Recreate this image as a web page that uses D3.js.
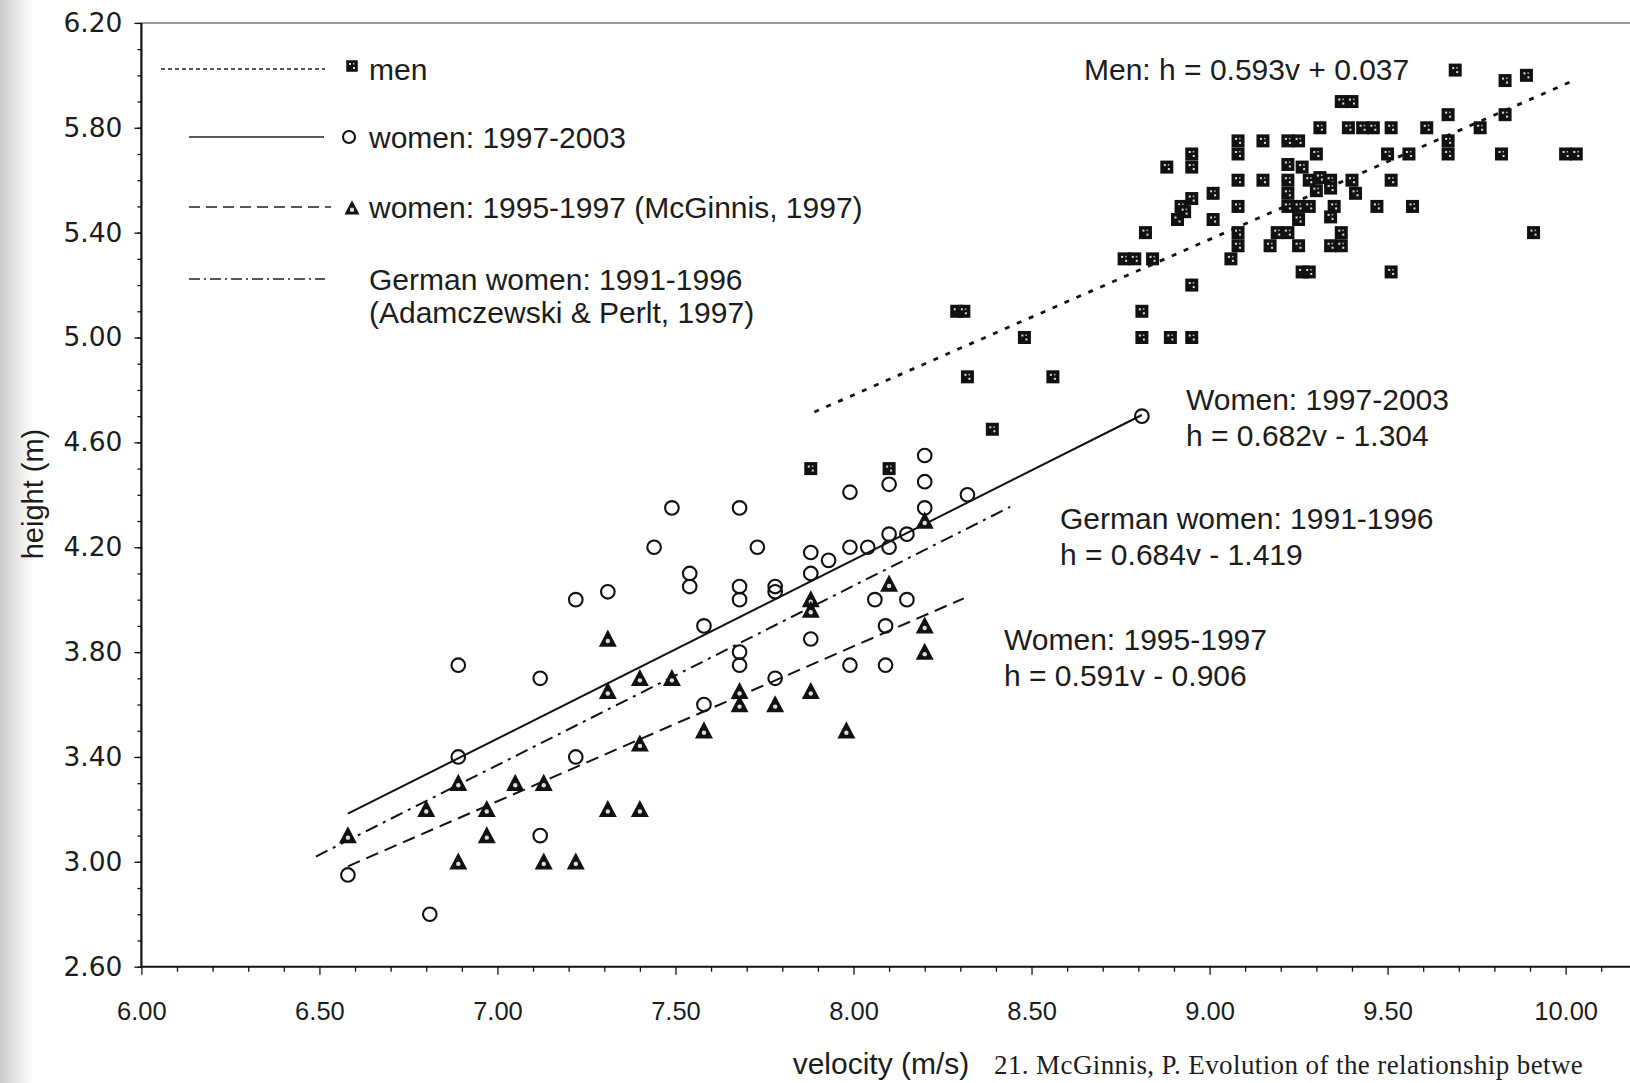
<!DOCTYPE html>
<html>
<head>
<meta charset="utf-8">
<script src="https://cdn.jsdelivr.net/npm/d3@7"></script>
<style>
    body { margin: 0; background: #fff; }
    svg { display: block; }
    text { font-family: 'Liberation Sans', Arial, sans-serif; fill: #1c1c1c; }
</style>
</head>
<body>
<svg id="canvas" width="1630" height="1083"></svg>
<script>
// men (squares)
let menVelocity = [7.88, 8.10, 8.29, 8.31, 8.32, 8.39, 8.48, 8.56, 8.76, 8.79, 8.84, 8.82, 8.95, 8.81, 8.81, 8.89, 8.95,
    9.31, 9.08, 9.08, 9.15, 9.22, 9.25, 9.30, 8.95, 8.88, 8.95, 9.08, 9.15, 9.22, 9.26, 9.22, 9.22, 9.22, 9.25, 9.28,
    9.28, 9.31, 9.34, 9.34, 9.30, 9.40, 9.41, 9.01, 8.95, 8.92, 8.91, 8.93, 9.01, 9.08, 9.08, 9.08, 9.06, 9.17, 9.19,
    9.22, 9.25, 9.25, 9.26, 9.28, 9.34, 9.37, 9.35, 9.34, 9.37,
    9.69, 9.83, 9.89, 9.37, 9.40, 9.67, 9.83, 9.61, 9.76, 9.39, 9.43, 9.46, 9.51, 9.67, 9.67, 9.56, 9.50, 9.82, 10.00,
    10.03, 9.51, 9.47, 9.57, 9.91, 9.51]
let menHeight = [4.50, 4.50, 5.10, 5.10, 4.85, 4.65, 5.00, 4.85, 5.30, 5.30, 5.30, 5.40, 5.20, 5.10, 5.00, 5.00, 5.00,
    5.80, 5.75, 5.70, 5.75, 5.75, 5.75, 5.70, 5.70, 5.65, 5.65, 5.60, 5.60, 5.66, 5.65, 5.60, 5.55, 5.50, 5.50, 5.50,
    5.60, 5.61, 5.60, 5.57, 5.56, 5.60, 5.55, 5.55, 5.53, 5.50, 5.45, 5.48, 5.45, 5.50, 5.40, 5.35, 5.30, 5.35, 5.40,
    5.40, 5.45, 5.35, 5.25, 5.25, 5.35, 5.35, 5.50, 5.46, 5.40,
    6.02, 5.98, 6.00, 5.90, 5.90, 5.85, 5.85, 5.80, 5.80, 5.80, 5.80, 5.80, 5.80, 5.75, 5.70, 5.70, 5.70, 5.70, 5.70,
    5.70, 5.60, 5.50, 5.50, 5.40, 5.25]

// women 1997-2003 (circles)
let womenVelocity = [6.58, 6.81, 6.89, 6.89, 7.12, 7.12, 7.22, 7.22, 7.31, 7.44, 7.49, 7.54, 7.54, 7.58, 7.58,
    7.68, 7.68, 7.68, 7.68, 7.68, 7.73, 7.78, 7.78, 7.78, 7.88, 7.88, 7.88, 7.93, 7.99, 7.99, 7.99, 8.04, 8.06,
    8.09, 8.09, 8.10, 8.10, 8.10, 8.15, 8.15, 8.20, 8.20, 8.20, 8.32, 8.81]
let womenHeight = [2.95, 2.80, 3.40, 3.75, 3.70, 3.10, 4.00, 3.40, 4.03, 4.20, 4.35, 4.10, 4.05, 3.90, 3.60,
    4.35, 4.05, 4.00, 3.80, 3.75, 4.20, 4.05, 4.03, 3.70, 4.18, 4.10, 3.85, 4.15, 4.41, 4.20, 3.75, 4.20, 4.00,
    3.90, 3.75, 4.44, 4.25, 4.20, 4.25, 4.00, 4.55, 4.45, 4.35, 4.40, 4.70]

// women 1995-1997, McGinnis (triangles)
let mcginnisVelocity = [6.58, 6.80, 6.89, 6.89, 6.97, 6.97, 7.05, 7.13, 7.13, 7.22, 7.31, 7.31, 7.31, 7.40, 7.40,
    7.40, 7.49, 7.58, 7.68, 7.68, 7.78, 7.88, 7.88, 7.88, 7.98, 8.10, 8.20, 8.20, 8.20]
let mcginnisHeight = [3.10, 3.20, 3.30, 3.00, 3.20, 3.10, 3.30, 3.30, 3.00, 3.00, 3.85, 3.65, 3.20, 3.20, 3.70,
    3.45, 3.70, 3.50, 3.65, 3.60, 3.60, 3.65, 4.00, 3.96, 3.50, 4.06, 3.90, 3.80, 4.30]

// regression lines: men, women 97-03, German women, women 95-97
let fitSlope = [0.593, 0.682, 0.684, 0.591]
let fitIntercept = [0.037, -1.304, -1.419, -0.906]
let fitStart = [7.89, 6.58, 6.49, 6.58]
let fitEnd = [10.02, 8.81, 8.44, 8.31]

let xTicks = [6.0, 6.5, 7.0, 7.5, 8.0, 8.5, 9.0, 9.5, 10.0]
let yTicks = [2.6, 3.0, 3.4, 3.8, 4.2, 4.6, 5.0, 5.4, 5.8, 6.2]

let legendLabels = ['men', 'women: 1997-2003', 'women: 1995-1997 (McGinnis, 1997)', 'German women: 1991-1996']
let equationLabels = [
    ['Men: h = 0.593v + 0.037'],
    ['Women: 1997-2003', 'h = 0.682v - 1.304'],
    ['German women: 1991-1996', 'h = 0.684v - 1.419'],
    ['Women: 1995-1997', 'h = 0.591v - 0.906']
]

let svg = d3.select('#canvas')
let W = 1630

let x = d3.scaleLinear().domain([6, 10]).range([141.4, 1565.6])
let y = d3.scaleLinear().domain([2.6, 6.2]).range([966.7, 22.9])

// scanned page shadow on the left
let defs = svg.append('defs')
let grad = defs.append('linearGradient').attr('id', 'shade')
grad.append('stop').attr('offset', '0').attr('stop-color', '#c9c9c9')
grad.append('stop').attr('offset', '0.55').attr('stop-color', '#e9e9e9')
grad.append('stop').attr('offset', '1').attr('stop-color', '#ffffff')
svg.append('rect').attr('x', 0).attr('y', 0).attr('width', 34).attr('height', 1083).attr('fill', 'url(#shade)')

// top frame line
svg.append('line')
    .attr('x1', x(6)).attr('x2', W)
    .attr('y1', y(6.2)).attr('y2', y(6.2))
    .attr('stroke', '#9a9a9a').attr('stroke-width', 2)

// x axis
let xMinor = d3.range(60, 103).map((d) => d / 10).filter((d) => xTicks.indexOf(d) < 0)
svg.append('g')
    .attr('transform', 'translate(0,' + y(2.6) + ')')
    .call(d3.axisBottom(x).tickValues(xMinor).tickSize(5).tickFormat(''))
    .call((g) => g.select('.domain').remove())
let xAxis = svg.append('g')
    .attr('transform', 'translate(0,' + y(2.6) + ')')
    .call(d3.axisBottom(x).tickValues(xTicks).tickSize(8).tickPadding(27).tickFormat(d3.format('.2f')))
xAxis.select('.domain').remove()
xAxis.selectAll('text').style('font-size', '25.5px').style('font-family', "'Liberation Sans', Arial, sans-serif")
svg.append('line')
    .attr('x1', x(6)).attr('x2', W)
    .attr('y1', y(2.6)).attr('y2', y(2.6))
    .attr('stroke', '#111').attr('stroke-width', 2)

// y axis
let yMinor = d3.range(26, 63).map((d) => d / 10)
svg.append('g')
    .attr('transform', 'translate(' + x(6) + ',0)')
    .call(d3.axisLeft(y).tickValues(yMinor).tickSize(4).tickFormat(''))
    .call((g) => g.select('.domain').remove())
let yAxis = svg.append('g')
    .attr('transform', 'translate(' + x(6) + ',0)')
    .call(d3.axisLeft(y).tickValues(yTicks).tickSize(7).tickPadding(12).tickFormat(d3.format('.2f')))
yAxis.select('.domain').remove()
yAxis.selectAll('text').style('font-size', '26.5px').style('font-family', "'DejaVu Sans', Verdana, sans-serif")
svg.append('line')
    .attr('x1', x(6)).attr('x2', x(6))
    .attr('y1', y(6.2)).attr('y2', y(2.6))
    .attr('stroke', '#111').attr('stroke-width', 2.2)

svg.selectAll('.tick line').attr('stroke', '#111').attr('stroke-width', 1.3)

// axis titles
svg.append('text')
    .attr('transform', 'translate(43,494) rotate(-90)')
    .attr('text-anchor', 'middle')
    .style('font-size', '29px')
    .text('height (m)')
svg.append('text')
    .attr('x', 881).attr('y', 1074)
    .attr('text-anchor', 'middle')
    .style('font-size', '30px')
    .text('velocity (m/s)')
// page text running off the scan
svg.append('text')
    .attr('x', 994).attr('y', 1074)
    .style('font-family', "'Liberation Serif', 'DejaVu Serif', serif")
    .style('font-size', '27px')
    .style('letter-spacing', '0.4px')
    .text('21. McGinnis, P. Evolution of the relationship betwe')

// regression lines
let dashes = ['5,8', null, '13,6,3,6', '13,7']
let widths = [2.8, 2, 2, 2]
fitSlope.forEach((m, i) => {
    svg.append('line')
        .attr('x1', x(fitStart[i])).attr('y1', y(m * fitStart[i] + fitIntercept[i]))
        .attr('x2', x(fitEnd[i])).attr('y2', y(m * fitEnd[i] + fitIntercept[i]))
        .attr('stroke', '#111')
        .attr('stroke-width', widths[i])
        .attr('stroke-dasharray', dashes[i])
})

let drawSquare = (g, px, py, s) => {
    g.append('rect')
        .attr('x', px - s / 2).attr('y', py - s / 2)
        .attr('width', s).attr('height', s)
        .attr('fill', '#111')
    g.append('rect')
        .attr('x', px - 3).attr('y', py - 3).attr('width', 2).attr('height', 2).attr('fill', '#ddd')
    g.append('rect')
        .attr('x', px + 1).attr('y', py + 1).attr('width', 2).attr('height', 2).attr('fill', '#ddd')
    g.append('rect')
        .attr('x', px + 1).attr('y', py - 3).attr('width', 1.5).attr('height', 1.5).attr('fill', '#bbb')
}
let drawTriangle = (g, px, py, s) => {
    let h = s * 0.95
    g.append('path')
        .attr('d', 'M' + px + ',' + (py - h * 0.55) + 'L' + (px + s / 2) + ',' + (py + h * 0.45) + 'L' + (px - s / 2) + ',' + (py + h * 0.45) + 'Z')
        .attr('fill', '#111')
    g.append('circle')
        .attr('cx', px).attr('cy', py + h * 0.12).attr('r', 2.2)
        .attr('fill', '#ddd')
}
let drawCircle = (g, px, py, r) => {
    g.append('circle')
        .attr('cx', px).attr('cy', py).attr('r', r)
        .attr('fill', 'none')
        .attr('stroke', '#111')
        .attr('stroke-width', 2.1)
}

// markers
let marks = svg.append('g')
womenVelocity.forEach((v, i) => drawCircle(marks, x(v), y(womenHeight[i]), 6.8))
mcginnisVelocity.forEach((v, i) => drawTriangle(marks, x(v), y(mcginnisHeight[i]), 18))
menVelocity.forEach((v, i) => drawSquare(marks, x(v), y(menHeight[i]), 13))

// legend
let legend = svg.append('g')
let legendY = [69, 137, 207, 279]
let legendStart = [161, 189, 189, 189]
let legendEnd = [325, 324, 331, 325]
let legendDash = ['4,3', null, '11,6', '11,4,2,4']
legendLabels.forEach((label, i) => {
    legend.append('line')
        .attr('x1', legendStart[i]).attr('x2', legendEnd[i])
        .attr('y1', legendY[i]).attr('y2', legendY[i])
        .attr('stroke', '#222')
        .attr('stroke-width', 1.6)
        .attr('stroke-dasharray', legendDash[i])
    legend.append('text')
        .attr('x', 369).attr('y', legendY[i] + 11)
        .style('font-size', '30px')
        .text(label)
})
drawSquare(legend, 352, 66, 11.5)
drawCircle(legend, 349, 137, 6)
drawTriangle(legend, 352, 208, 15)
legend.append('text')
    .attr('x', 369).attr('y', 323)
    .style('font-size', '30px')
    .text('(Adamczewski & Perlt, 1997)')

// equations
let eqX = [1084, 1186, 1060, 1004]
let eqY = [80, 410, 529, 650]
equationLabels.forEach((lines, i) => {
    lines.forEach((t, j) => {
        svg.append('text')
            .attr('x', eqX[i]).attr('y', eqY[i] + j * 36)
            .style('font-size', '30px')
            .text(t)
    })
})
</script>
</body>
</html>
